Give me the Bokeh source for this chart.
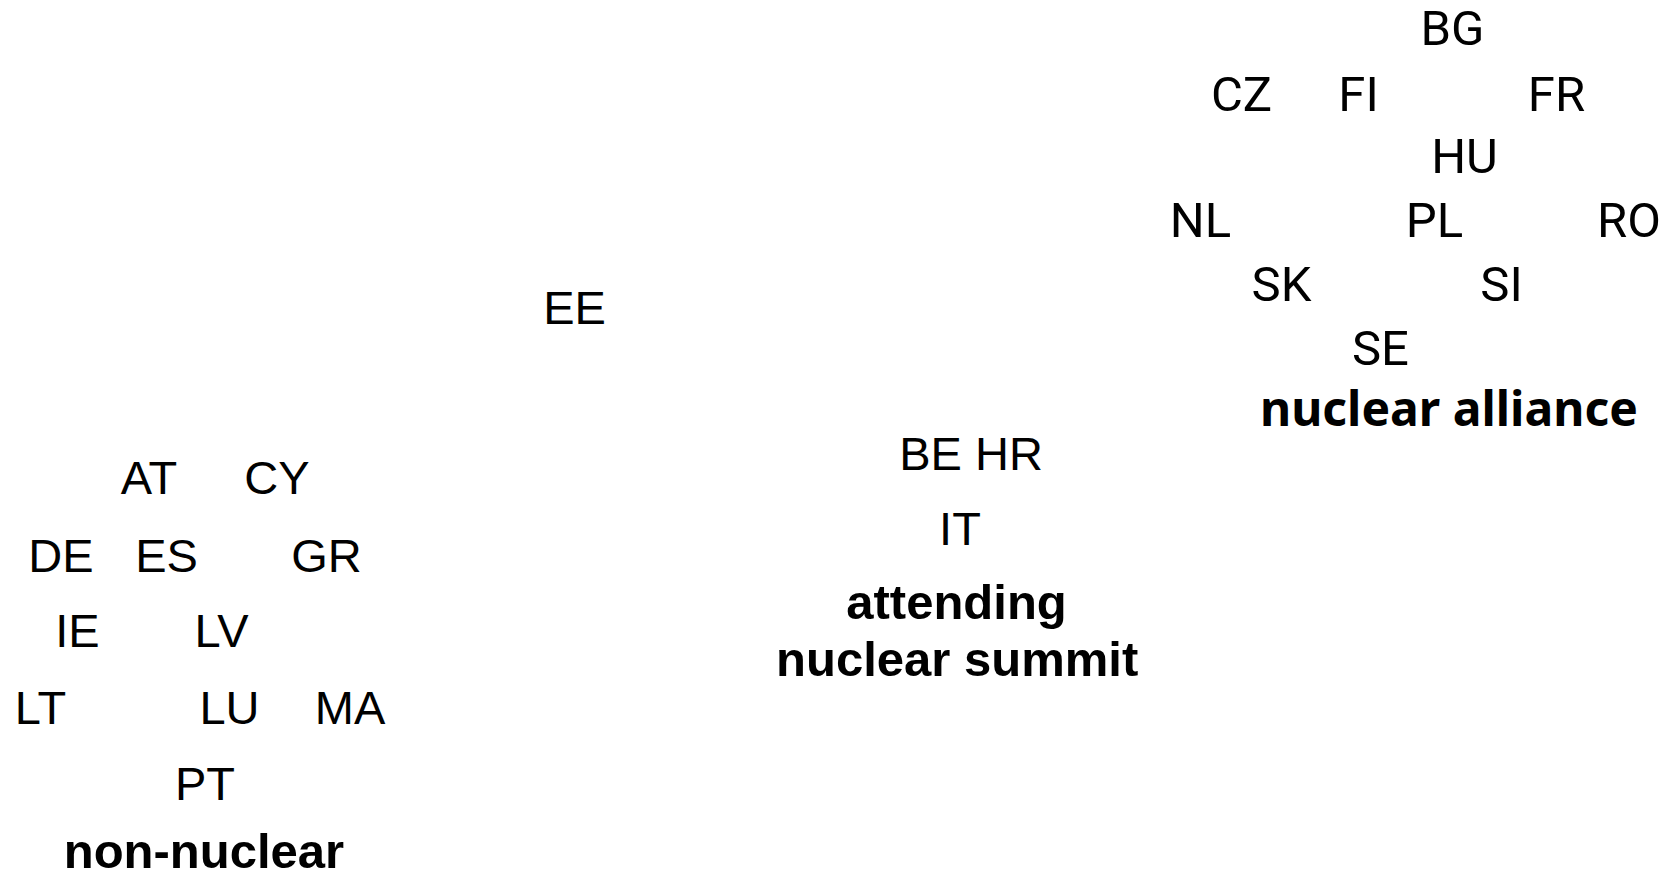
from bokeh.plotting import figure
from bokeh.models import Range1d, ColumnDataSource
from bokeh.core.properties import value
from bokeh.embed import file_html
from bokeh.resources import INLINE

# non-nuclear countries (label positions)
nonnuc_codes = ["AT", "CY", "DE", "ES", "GR", "IE", "LV", "LT", "LU", "MA", "PT"]
nonnuc_x = [148.5, 276.5, 60.5, 166, 326, 77, 221, 40, 229, 349.5, 204.5]
nonnuc_y = [477, 477, 555, 555, 555, 630, 630, 707, 707, 707, 783]

# undecided
other_codes = ["EE"]
other_x = [574]
other_y = [307]

# attending nuclear summit
summit_codes = ["BE", "HR", "IT"]
summit_x = [930, 1008.5, 959.5]
summit_y = [453, 453, 528]

# nuclear alliance
alliance_codes = ["BG", "CZ", "FI", "FR", "HU", "NL", "PL", "RO", "SK", "SI", "SE"]
alliance_x = [1452, 1241, 1358, 1556, 1464, 1200, 1434, 1628.5, 1281, 1501, 1380]
alliance_y = [28.4, 93.9, 93.9, 93.9, 156.4, 220.4, 220.4, 220.4, 284.1, 284.1, 348.1]

# group titles
title_text = ["non-nuclear", "attending", "nuclear summit"]
title_x = [203.4, 956, 956.7]
title_y = [850.5, 601, 658]
alliance_title = ["nuclear alliance"]
alliance_title_x = [1448.4]
alliance_title_y = [407]

W, H = 1678, 879
p = figure(width=W, height=H, x_range=Range1d(0, W), y_range=Range1d(H, 0),
           output_backend="svg", toolbar_location=None, min_border=0,
           x_axis_type=None, y_axis_type=None)
p.grid.visible = False
p.outline_line_color = None
p.background_fill_color = "white"
p.border_fill_color = "white"

def labels(codes, xs, ys, font, size, style="normal"):
    src = ColumnDataSource(dict(x=xs, y=ys, t=codes))
    p.text(x="x", y="y", text="t", source=src, text_font=value(font),
           text_font_size=size, text_font_style=style, text_color="black",
           text_align="center", text_baseline="alphabetic")

labels(nonnuc_codes, nonnuc_x, nonnuc_y, "Liberation Sans", "47px")
labels(other_codes, other_x, other_y, "Liberation Sans", "47px")
labels(summit_codes, summit_x, summit_y, "Liberation Sans", "47px")
labels(alliance_codes, alliance_x, alliance_y, "Roboto", "49px")
labels(title_text, title_x, title_y, "Liberation Sans", "49px", "bold")
labels(alliance_title, alliance_title_x, alliance_title_y, "Noto Sans", "48px", "bold")

open("out.html", "w").write(file_html(p, INLINE))
